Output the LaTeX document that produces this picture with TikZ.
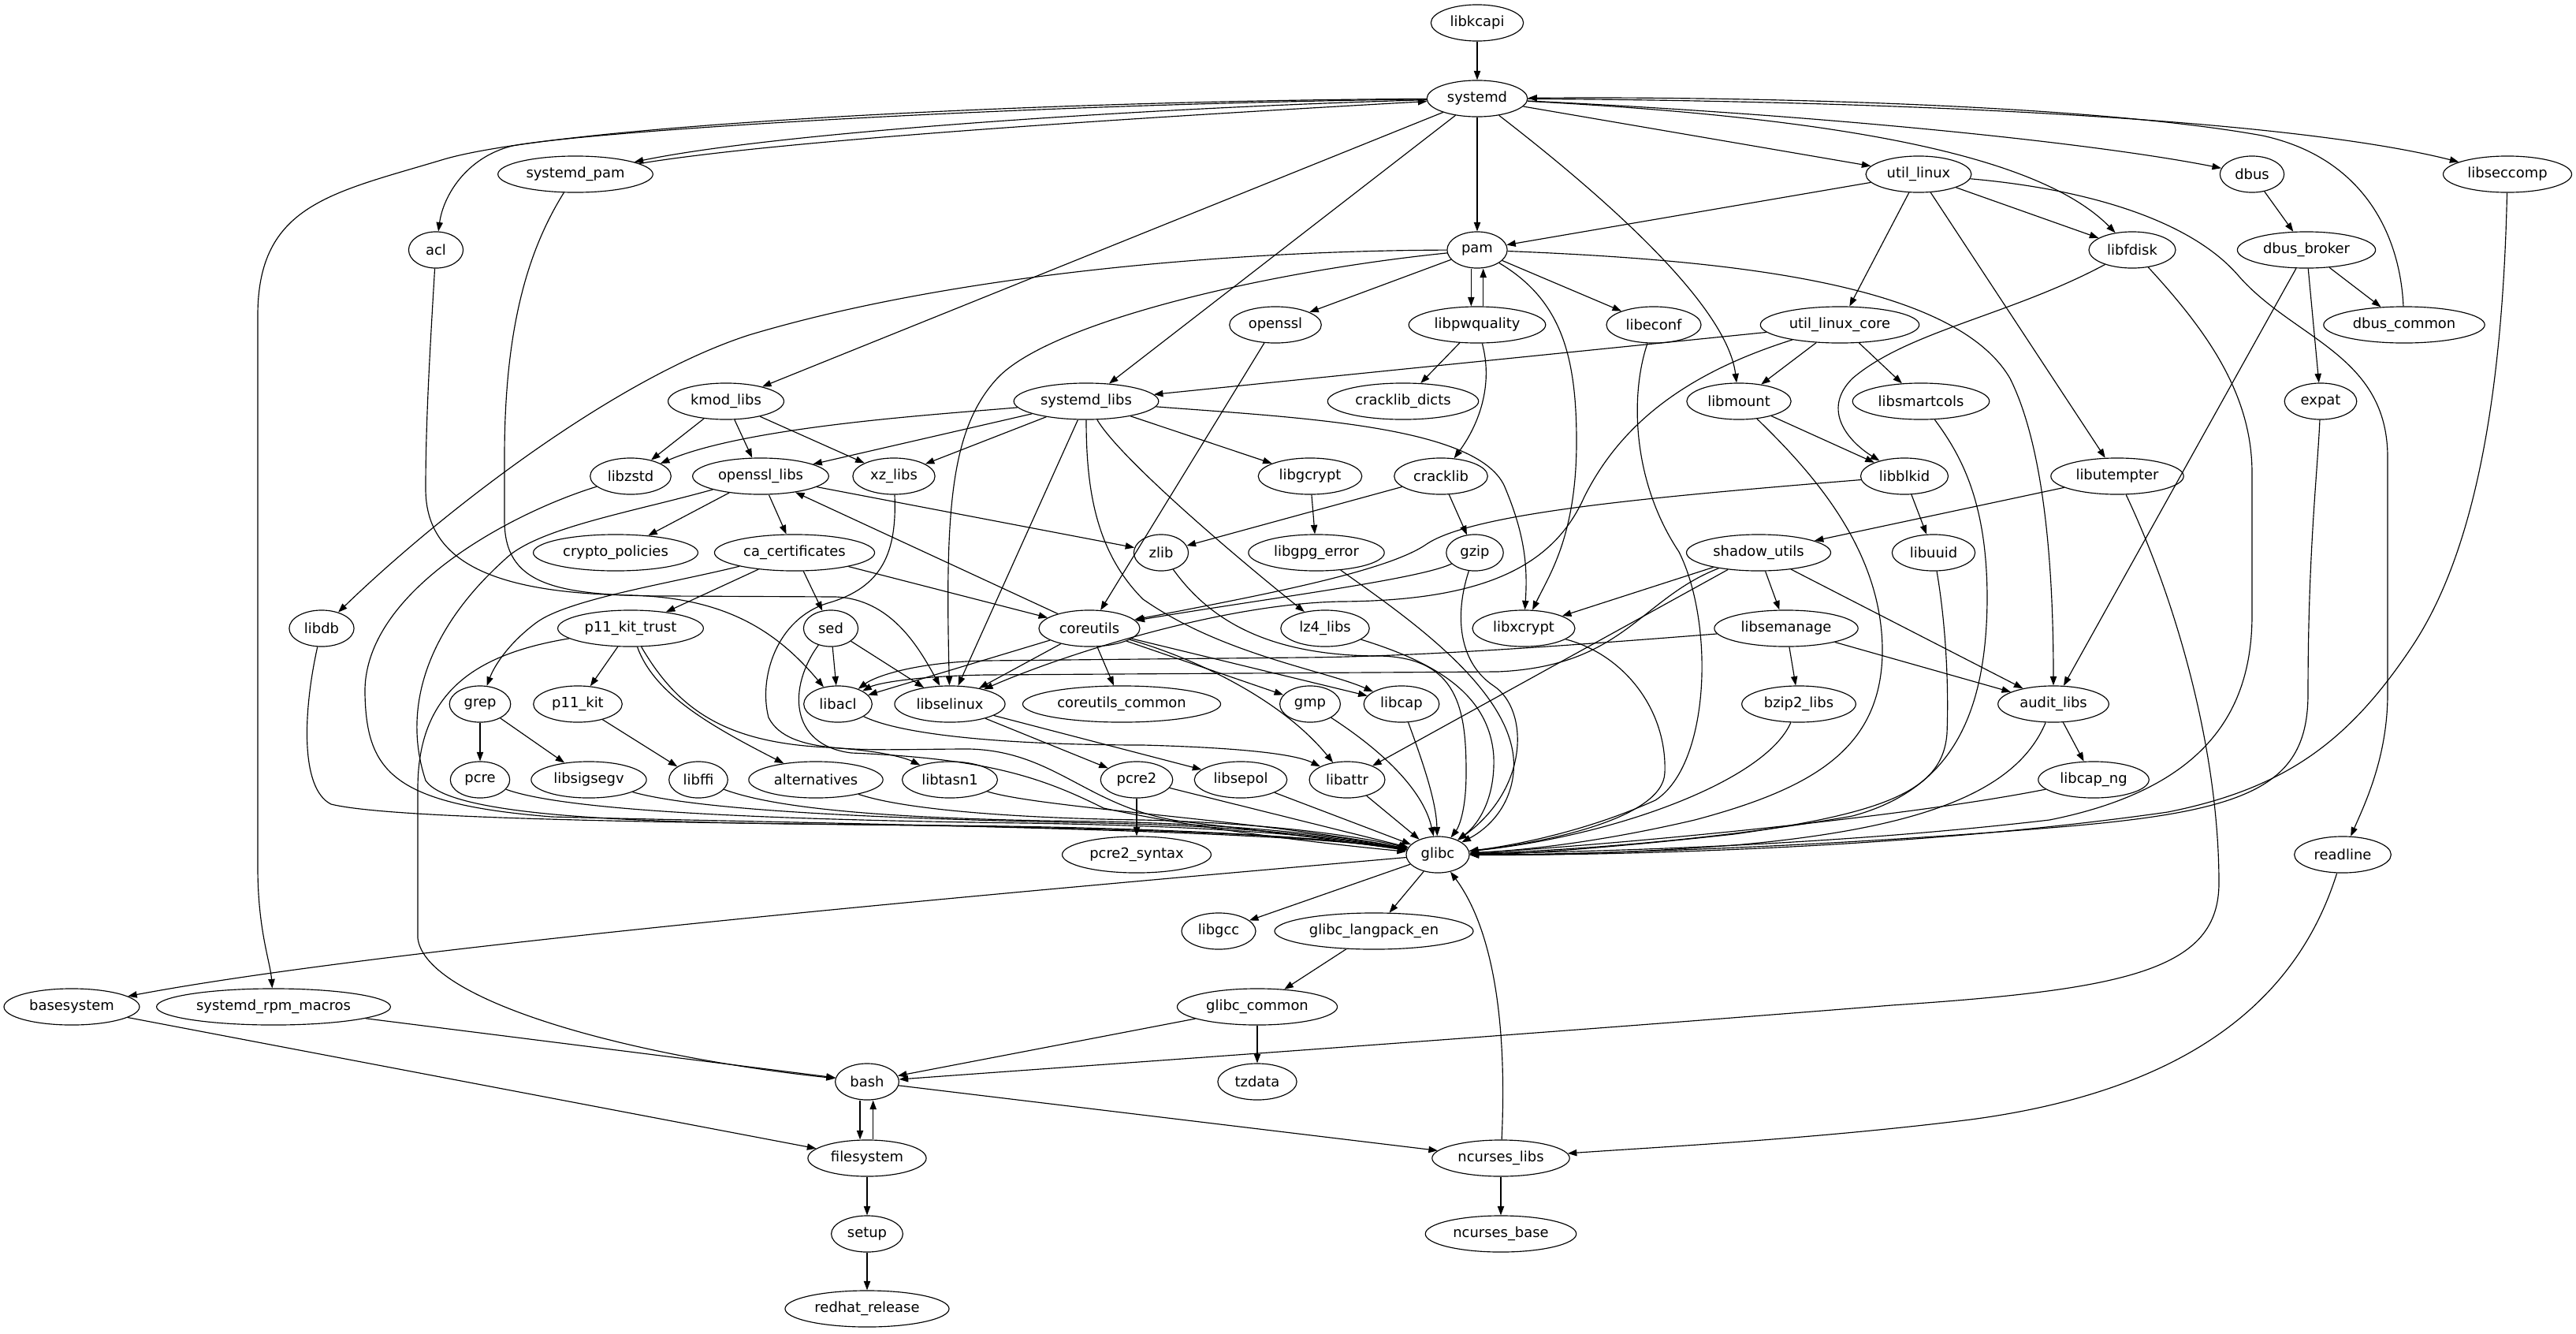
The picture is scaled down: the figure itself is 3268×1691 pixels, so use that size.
\documentclass[tikz,border=0pt]{standalone}
\usepackage{fontspec}
\setmainfont{DejaVu Sans}
\usetikzlibrary{arrows.meta,shapes.geometric}
\newcommand\pkgnode[4]{\node[pkg] (#1) at (#2,#3) {#4};}
\begin{document}
\begin{tikzpicture}[x=0.78125pt,y=-0.78125pt,
  pkg/.style={ellipse,draw,line width=0.9pt,minimum width=54pt,minimum height=36pt,inner xsep=5.5pt,inner ysep=2pt,font=\fontsize{14pt}{16pt}\selectfont},
  dep/.style={-{Triangle[length=9pt,width=6.5pt]},line width=0.9pt}]
\useasboundingbox[fill=white] (0,0) rectangle (3268,1691);
% rank 0-1
\pkgnode{libkcapi}{1874}{29}{libkcapi}
\pkgnode{systemd}{1874}{125}{systemd}
% rank 2
\pkgnode{systemd_pam}{730}{221}{systemd\_pam}
\pkgnode{util_linux}{2434}{221}{util\_linux}
\pkgnode{dbus}{2857}{221}{dbus}
\pkgnode{libseccomp}{3181}{221}{libseccomp}
% rank 3
\pkgnode{acl}{553}{317}{acl}
\pkgnode{pam}{1874}{317}{pam}
\pkgnode{libfdisk}{2705}{317}{libfdisk}
\pkgnode{dbus_broker}{2926}{317}{dbus\_broker}
% rank 4
\pkgnode{openssl}{1618}{412}{openssl}
\pkgnode{libpwquality}{1874}{412}{libpwquality}
\pkgnode{libeconf}{2098}{412}{libeconf}
\pkgnode{util_linux_core}{2334}{412}{util\_linux\_core}
\pkgnode{dbus_common}{3050}{412}{dbus\_common}
% rank 5
\pkgnode{kmod_libs}{921}{509}{kmod\_libs}
\pkgnode{systemd_libs}{1378}{509}{systemd\_libs}
\pkgnode{cracklib_dicts}{1780}{509}{cracklib\_dicts}
\pkgnode{libmount}{2206}{509}{libmount}
\pkgnode{libsmartcols}{2437}{509}{libsmartcols}
\pkgnode{expat}{2944}{509}{expat}
% rank 6
\pkgnode{libzstd}{800}{604}{libzstd}
\pkgnode{openssl_libs}{965}{604}{openssl\_libs}
\pkgnode{xz_libs}{1134}{604}{xz\_libs}
\pkgnode{libgcrypt}{1662}{604}{libgcrypt}
\pkgnode{cracklib}{1828}{604}{cracklib}
\pkgnode{libblkid}{2416}{604}{libblkid}
\pkgnode{libutempter}{2686}{604}{libutempter}
% rank 7
\pkgnode{crypto_policies}{781}{701}{crypto\_policies}
\pkgnode{ca_certificates}{1008}{701}{ca\_certificates}
\pkgnode{zlib}{1473}{701}{zlib}
\pkgnode{libgpg_error}{1670}{701}{libgpg\_error}
\pkgnode{gzip}{1871}{701}{gzip}
\pkgnode{shadow_utils}{2231}{701}{shadow\_utils}
\pkgnode{libuuid}{2453}{701}{libuuid}
% rank 8
\pkgnode{libdb}{408}{797}{libdb}
\pkgnode{p11_kit_trust}{800}{797}{p11\_kit\_trust}
\pkgnode{sed}{1054}{797}{sed}
\pkgnode{coreutils}{1382}{797}{coreutils}
\pkgnode{lz4_libs}{1681}{797}{lz4\_libs}
\pkgnode{libxcrypt}{1933}{797}{libxcrypt}
\pkgnode{libsemanage}{2266}{797}{libsemanage}
% rank 9
\pkgnode{grep}{609}{893}{grep}
\pkgnode{p11_kit}{733}{893}{p11\_kit}
\pkgnode{libacl}{1063}{893}{libacl}
\pkgnode{libselinux}{1205}{893}{libselinux}
\pkgnode{coreutils_common}{1423}{893}{coreutils\_common}
\pkgnode{gmp}{1662}{893}{gmp}
\pkgnode{libcap}{1778}{893}{libcap}
\pkgnode{bzip2_libs}{2282}{893}{bzip2\_libs}
\pkgnode{audit_libs}{2605}{893}{audit\_libs}
% rank 10
\pkgnode{pcre}{609}{989}{pcre}
\pkgnode{libsigsegv}{747}{989}{libsigsegv}
\pkgnode{libffi}{886}{989}{libffi}
\pkgnode{alternatives}{1035}{989}{alternatives}
\pkgnode{libtasn1}{1205}{989}{libtasn1}
\pkgnode{pcre2}{1442}{989}{pcre2}
\pkgnode{libsepol}{1574}{989}{libsepol}
\pkgnode{libattr}{1709}{989}{libattr}
\pkgnode{libcap_ng}{2656}{989}{libcap\_ng}
% rank 11
\pkgnode{pcre2_syntax}{1442}{1084}{pcre2\_syntax}
\pkgnode{glibc}{1824}{1084}{glibc}
\pkgnode{readline}{2972}{1084}{readline}
% rank 12-17
\pkgnode{libgcc}{1546}{1181}{libgcc}
\pkgnode{glibc_langpack_en}{1743}{1181}{glibc\_langpack\_en}
\pkgnode{basesystem}{91}{1277}{basesystem}
\pkgnode{systemd_rpm_macros}{347}{1277}{systemd\_rpm\_macros}
\pkgnode{glibc_common}{1595}{1277}{glibc\_common}
\pkgnode{bash}{1100}{1372}{bash}
\pkgnode{tzdata}{1595}{1372}{tzdata}
\pkgnode{filesystem}{1100}{1469}{filesystem}
\pkgnode{ncurses_libs}{1904}{1469}{ncurses\_libs}
\pkgnode{setup}{1100}{1565}{setup}
\pkgnode{ncurses_base}{1904}{1565}{ncurses\_base}
\pkgnode{redhat_release}{1100}{1660}{redhat\_release}

% ---- edges ----
\draw[dep] (libkcapi) -- (systemd);
\draw[dep] (systemd) .. controls (1500,135) and (1000,165) .. (systemd_pam);
\draw[dep] (systemd_pam) .. controls (1000,176) and (1500,146) .. (systemd);
\draw[dep] (systemd) .. controls (1300,128) and (700,160) .. (560,203) .. controls (420,245) and (327,260) .. (327,400) -- (327,1100) .. controls (327,1180) and (343,1220) .. (systemd_rpm_macros);
\draw[dep] (systemd) .. controls (1300,132) and (760,165) .. (650,185) .. controls (590,200) and (562,250) .. (acl);
\draw[dep] (systemd) -- (kmod_libs);
\draw[dep] (systemd) -- (systemd_libs);
\draw[dep] (systemd) -- (pam);
\draw[dep] (systemd) .. controls (2010,230) and (2190,380) .. (libmount);
\draw[dep] (systemd) -- (util_linux);
\draw[dep] (systemd) .. controls (2350,150) and (2590,200) .. (libfdisk);
\draw[dep] (systemd) .. controls (2300,145) and (2650,180) .. (dbus);
\draw[dep] (systemd) .. controls (2400,128) and (2900,150) .. (libseccomp);
\draw[dep] (dbus_common) .. controls (3045,300) and (3000,200) .. (2870,172) .. controls (2650,132) and (2200,122) .. (systemd);
\draw[dep] (systemd_pam) .. controls (668,320) and (640,420) .. (640,580) -- (640,660) .. controls (640,740) and (700,756) .. (850,756) -- (1060,757) .. controls (1130,760) and (1165,820) .. (libselinux);
\draw[dep] (acl) .. controls (545,450) and (540,540) .. (540,620) .. controls (540,710) and (620,752) .. (800,755) .. controls (920,758) and (985,800) .. (libacl);
\draw[dep] (util_linux) -- (pam);
\draw[dep] (util_linux) -- (util_linux_core);
\draw[dep] (util_linux) -- (libfdisk);
\draw[dep] (util_linux) -- (libutempter);
\draw[dep] (util_linux) .. controls (2650,240) and (2780,280) .. (2840,350) .. controls (2910,430) and (3029,450) .. (3029,580) -- (3029,880) .. controls (3029,960) and (3000,1020) .. (readline);
\draw[dep] (dbus) -- (dbus_broker);
\draw[dep] (dbus_broker) -- (dbus_common);
\draw[dep] (dbus_broker) -- (expat);
\draw[dep] (dbus_broker) -- (audit_libs);
\draw[dep] (libseccomp) .. controls (3175,500) and (3140,700) .. (3060,820) .. controls (2980,940) and (2900,1000) .. (2750,1030) .. controls (2400,1080) and (2000,1085) .. (glibc);
\draw[dep] (libfdisk) .. controls (2550,400) and (2420,420) .. (2350,480) .. controls (2310,520) and (2345,560) .. (libblkid);
\draw[dep] (libfdisk) .. controls (2800,420) and (2857,500) .. (2857,600) -- (2857,780) .. controls (2857,900) and (2800,1000) .. (2600,1040) .. controls (2300,1075) and (2000,1080) .. (glibc);
\draw[dep] (pam) -- (openssl);
\draw[dep] ([xshift=-6pt]pam.south) -- ([xshift=-6pt]libpwquality.north);
\draw[dep] ([xshift=6pt]libpwquality.north) -- ([xshift=6pt]pam.south);
\draw[dep] (pam) -- (libeconf);
\draw[dep] (pam) .. controls (1550,318) and (1200,350) .. (950,425) .. controls (780,480) and (560,650) .. (libdb);
\draw[dep] (pam) .. controls (1600,345) and (1330,410) .. (1265,480) .. controls (1205,545) and (1199,650) .. (libselinux);
\draw[dep] (pam) .. controls (1980,380) and (2000,450) .. (2000,560) .. controls (2000,680) and (1965,730) .. (libxcrypt);
\draw[dep] (pam) .. controls (2200,330) and (2480,360) .. (2550,480) .. controls (2590,560) and (2605,700) .. (audit_libs);
\draw[dep] (openssl) -- (coreutils);
\draw[dep] (libpwquality) -- (cracklib_dicts);
\draw[dep] (libpwquality) .. controls (1895,490) and (1875,540) .. (cracklib);
\draw[dep] (libeconf) .. controls (2068,500) and (2070,610) .. (2130,700) .. controls (2175,790) and (2170,970) .. (2100,1015) .. controls (2000,1060) and (1900,1075) .. (glibc);
\draw[dep] (util_linux_core) -- (systemd_libs);
\draw[dep] (util_linux_core) -- (libmount);
\draw[dep] (util_linux_core) -- (libsmartcols);
\draw[dep] (util_linux_core) .. controls (2150,470) and (2060,530) .. (2010,630) .. controls (1970,720) and (1880,762) .. (1700,763) .. controls (1550,766) and (1350,830) .. (libselinux);
\draw[dep] (libmount) -- (libblkid);
\draw[dep] (libmount) .. controls (2300,600) and (2390,700) .. (2388,830) .. controls (2385,950) and (2300,1000) .. (2150,1040) .. controls (2000,1075) and (1900,1080) .. (glibc);
\draw[dep] (libsmartcols) .. controls (2490,580) and (2521,640) .. (2521,760) .. controls (2520,900) and (2480,1000) .. (2350,1035) .. controls (2150,1070) and (1950,1080) .. (glibc);
\draw[dep] (expat) .. controls (2940,600) and (2928,700) .. (2928,880) .. controls (2928,1000) and (2850,1030) .. (2600,1050) .. controls (2300,1075) and (2000,1084) .. (glibc);
\draw[dep] (kmod_libs) -- (libzstd);
\draw[dep] (kmod_libs) -- (openssl_libs);
\draw[dep] (kmod_libs) -- (xz_libs);
\draw[dep] (systemd_libs) .. controls (1200,525) and (950,540) .. (libzstd);
\draw[dep] (systemd_libs) -- (openssl_libs);
\draw[dep] (systemd_libs) -- (xz_libs);
\draw[dep] (systemd_libs) -- (libgcrypt);
\draw[dep] (systemd_libs) .. controls (1420,580) and (1560,700) .. (lz4_libs);
\draw[dep] (systemd_libs) -- (libselinux);
\draw[dep] (systemd_libs) .. controls (1378,620) and (1390,700) .. (1450,760) .. controls (1550,830) and (1680,850) .. (libcap);
\draw[dep] (systemd_libs) .. controls (1650,530) and (1880,540) .. (1910,620) .. controls (1935,680) and (1938,720) .. (libxcrypt);
\draw[dep] (libzstd) .. controls (650,650) and (460,750) .. (463,880) .. controls (465,980) and (500,1020) .. (700,1036) .. controls (1100,1046) and (1620,1052) .. (glibc);
\draw[dep] (openssl_libs) -- (crypto_policies);
\draw[dep] (openssl_libs) -- (ca_certificates);
\draw[dep] (openssl_libs) -- (zlib);
\draw[dep] (openssl_libs) .. controls (800,650) and (680,670) .. (640,710) .. controls (540,800) and (510,900) .. (540,990) .. controls (570,1035) and (800,1042) .. (1000,1045) .. controls (1300,1048) and (1640,1054) .. (glibc);
\draw[dep] (coreutils) -- (openssl_libs);
\draw[dep] (xz_libs) .. controls (1138,700) and (1120,745) .. (1050,765) .. controls (985,785) and (962,860) .. (975,910) .. controls (1000,960) and (1100,950) .. (1230,950) .. controls (1340,953) and (1380,1025) .. (1500,1042) .. controls (1640,1058) and (1740,1072) .. (glibc);
\draw[dep] (libgcrypt) -- (libgpg_error);
\draw[dep] (cracklib) -- (zlib);
\draw[dep] (cracklib) -- (gzip);
\draw[dep] (zlib) .. controls (1530,780) and (1600,832) .. (1750,832) .. controls (1850,834) and (1860,900) .. (1860,980) .. controls (1860,1030) and (1850,1050) .. (glibc);
\draw[dep] (libgpg_error) .. controls (1780,780) and (1930,880) .. (1920,980) .. controls (1915,1030) and (1880,1055) .. (glibc);
\draw[dep] (gzip) .. controls (1800,735) and (1600,760) .. (coreutils);
\draw[dep] (gzip) .. controls (1845,780) and (1850,840) .. (1895,870) .. controls (1940,900) and (1940,1000) .. (glibc);
\draw[dep] (libblkid) .. controls (2100,630) and (1870,650) .. (1810,690) .. controls (1760,725) and (1600,755) .. (coreutils);
\draw[dep] (libblkid) -- (libuuid);
\draw[dep] (libutempter) -- (shadow_utils);
\draw[dep] (libutempter) .. controls (2760,760) and (2815,950) .. (2815,1120) .. controls (2815,1230) and (2700,1255) .. (2400,1275) .. controls (1900,1315) and (1400,1350) .. (bash);
\draw[dep] (ca_certificates) -- (p11_kit_trust);
\draw[dep] (ca_certificates) -- (sed);
\draw[dep] (ca_certificates) -- (coreutils);
\draw[dep] (ca_certificates) .. controls (850,740) and (720,760) .. (680,790) .. controls (640,820) and (625,850) .. (grep);
\draw[dep] (shadow_utils) -- (libxcrypt);
\draw[dep] (shadow_utils) -- (libsemanage);
\draw[dep] (shadow_utils) -- (audit_libs);
\draw[dep] (shadow_utils) -- (libattr);
\draw[dep] (shadow_utils) .. controls (2080,760) and (2060,845) .. (1900,852) -- (1250,856) .. controls (1150,858) and (1110,868) .. (libacl);
\draw[dep] (libsemanage) .. controls (2000,818) and (1800,833) .. (1650,834) -- (1250,838) .. controls (1160,840) and (1110,858) .. (libacl);
\draw[dep] (libsemanage) -- (bzip2_libs);
\draw[dep] (libsemanage) -- (audit_libs);
\draw[dep] (libuuid) .. controls (2470,800) and (2472,880) .. (2470,930) .. controls (2465,1000) and (2400,1030) .. (2200,1058) .. controls (2000,1080) and (1900,1084) .. (glibc);
\draw[dep] (libxcrypt) .. controls (2060,830) and (2115,900) .. (2112,980) .. controls (2110,1040) and (1950,1070) .. (glibc);
\draw[dep] (bzip2_libs) .. controls (2240,990) and (2050,1060) .. (glibc);
\draw[dep] (audit_libs) -- (libcap_ng);
\draw[dep] (audit_libs) .. controls (2560,1000) and (2450,1050) .. (2200,1072) .. controls (2050,1083) and (1950,1085) .. (glibc);
\draw[dep] (libcap_ng) .. controls (2400,1040) and (2000,1075) .. (glibc);
\draw[dep] (libdb) .. controls (385,900) and (380,1000) .. (420,1020) .. controls (500,1040) and (900,1044) .. (1200,1047) .. controls (1500,1050) and (1680,1062) .. (glibc);
\draw[dep] (grep) -- (pcre);
\draw[dep] (grep) -- (libsigsegv);
\draw[dep] (p11_kit_trust) -- (p11_kit);
\draw[dep] (p11_kit_trust) .. controls (860,900) and (920,942) .. (1050,948) .. controls (1120,952) and (1150,962) .. (libtasn1);
\draw[dep] (p11_kit_trust) .. controls (830,880) and (900,920) .. (alternatives);
\draw[dep] (p11_kit_trust) .. controls (600,830) and (530,880) .. (530,1000) -- (530,1190) .. controls (540,1270) and (800,1340) .. (bash);
\draw[dep] (p11_kit) -- (libffi);
\draw[dep] (sed) -- (libacl);
\draw[dep] (sed) -- (libselinux);
\draw[dep] (sed) .. controls (1000,870) and (1000,945) .. (1080,955) .. controls (1250,962) and (1320,985) .. (1400,1025) .. controls (1540,1055) and (1700,1072) .. (glibc);
\draw[dep] (coreutils) -- (libacl);
\draw[dep] (coreutils) -- (libselinux);
\draw[dep] (coreutils) -- (coreutils_common);
\draw[dep] (coreutils) -- (gmp);
\draw[dep] (coreutils) -- (libcap);
\draw[dep] (coreutils) .. controls (1500,830) and (1620,880) .. (libattr);
\draw[dep] (lz4_libs) .. controls (1820,840) and (1890,880) .. (1895,960) .. controls (1897,1020) and (1870,1050) .. (glibc);
\draw[dep] (libselinux) -- (pcre2);
\draw[dep] (libselinux) -- (libsepol);
\draw[dep] (libacl) .. controls (1150,935) and (1300,945) .. (1450,945) .. controls (1560,948) and (1640,955) .. (libattr);
\draw[dep] (gmp) .. controls (1750,950) and (1805,1000) .. (glibc);
\draw[dep] (libcap) .. controls (1810,980) and (1822,1020) .. (glibc);
\draw[dep] (pcre) .. controls (720,1030) and (1000,1040) .. (1300,1044) .. controls (1550,1048) and (1680,1060) .. (glibc);
\draw[dep] (libsigsegv) .. controls (900,1032) and (1200,1040) .. (1400,1044) .. controls (1580,1048) and (1700,1062) .. (glibc);
\draw[dep] (libffi) .. controls (1000,1032) and (1200,1040) .. (1400,1042) .. controls (1580,1046) and (1700,1060) .. (glibc);
\draw[dep] (alternatives) .. controls (1150,1028) and (1300,1038) .. (1450,1040) .. controls (1600,1044) and (1710,1058) .. (glibc);
\draw[dep] (libtasn1) .. controls (1320,1025) and (1600,1040) .. (glibc);
\draw[dep] (pcre2) -- (glibc);
\draw[dep] (pcre2) -- (pcre2_syntax);
\draw[dep] (libsepol) -- (glibc);
\draw[dep] (libattr) -- (glibc);
\draw[dep] (glibc) .. controls (1300,1130) and (500,1200) .. (basesystem);
\draw[dep] (glibc) -- (libgcc);
\draw[dep] (glibc) -- (glibc_langpack_en);
\draw[dep] (ncurses_libs) .. controls (1912,1300) and (1895,1180) .. (glibc);
\draw[dep] (glibc_langpack_en) -- (glibc_common);
\draw[dep] (glibc_common) -- (bash);
\draw[dep] (glibc_common) -- (tzdata);
\draw[dep] (systemd_rpm_macros) -- (bash);
\draw[dep] (basesystem) -- (filesystem);
\draw[dep] ([xshift=-7pt]bash.south) -- ([xshift=-7pt]filesystem.north);
\draw[dep] ([xshift=6pt]filesystem.north) -- ([xshift=6pt]bash.south);
\draw[dep] (bash) -- (ncurses_libs);
\draw[dep] (readline) .. controls (2920,1250) and (2800,1380) .. (2500,1420) .. controls (2300,1445) and (2100,1455) .. (ncurses_libs);
\draw[dep] (filesystem) -- (setup);
\draw[dep] (setup) -- (redhat_release);
\draw[dep] (ncurses_libs) -- (ncurses_base);
\end{tikzpicture}
\end{document}
